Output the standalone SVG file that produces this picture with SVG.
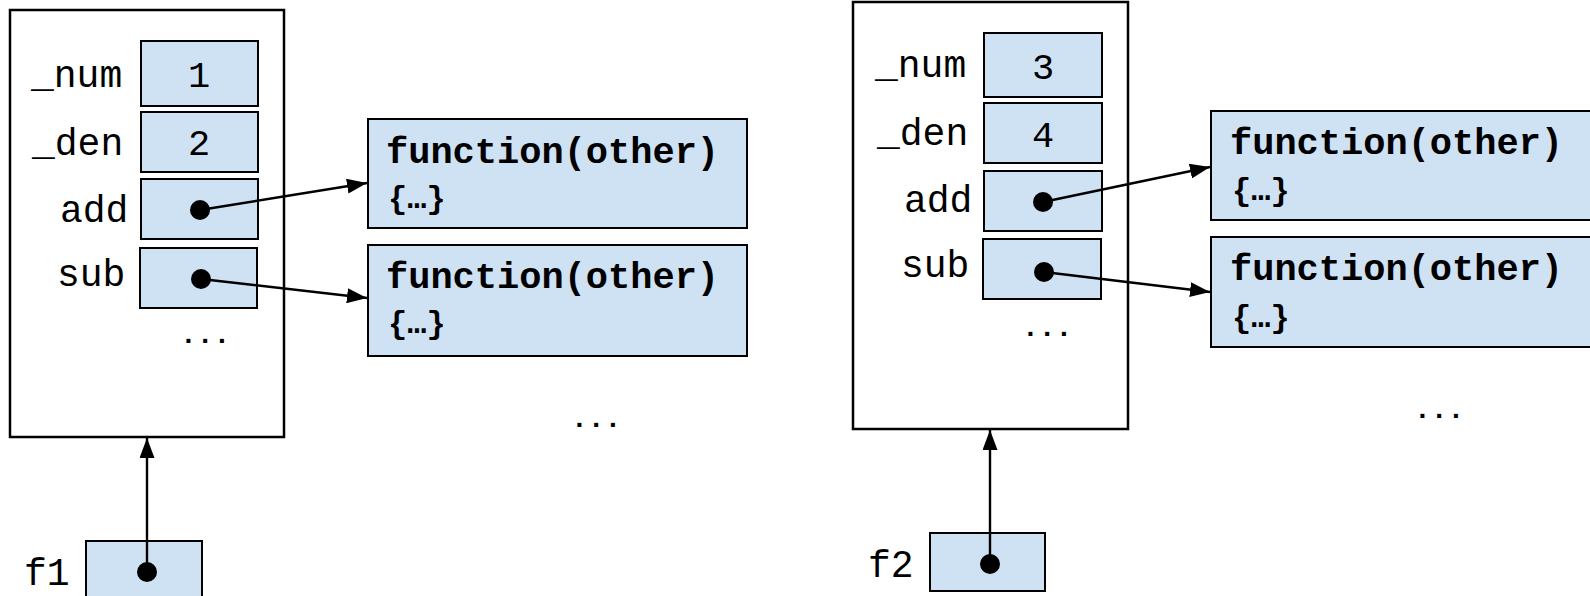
<svg xmlns="http://www.w3.org/2000/svg" width="1590" height="596" viewBox="0 0 1590 596">
<style>
  .frame { fill: #ffffff; stroke: #000000; stroke-width: 2.5; }
  .cell { fill: #cfe2f3; stroke: #000000; stroke-width: 2; }
  .lbl { font-family: "Liberation Mono", "Courier New", monospace; font-size: 38px; fill: #000000; }
  .val { font-family: "Liberation Mono", "Courier New", monospace; font-size: 37px; fill: #000000; text-anchor: middle; }
  .fn { font-family: "Liberation Mono", "Courier New", monospace; font-size: 37px; font-weight: bold; fill: #000000; }
  .body { font-family: "Liberation Mono", "Courier New", monospace; font-size: 32px; font-weight: bold; fill: #000000; }
  .dots { font-family: "Liberation Mono", "Courier New", monospace; font-size: 28px; font-weight: bold; fill: #000000; }
  .dot { fill: #000000; }
  .conn { stroke: #000000; stroke-width: 2.4; fill: none; marker-end: url(#arr); }
</style>
<defs>
  <marker id="arr" viewBox="0 0 20 15" refX="20" refY="7.5" markerWidth="20" markerHeight="15" markerUnits="userSpaceOnUse" orient="auto">
    <path d="M0,0 L20,7.5 L0,15 z" fill="#000000"/>
  </marker>
</defs>

<!-- Left object -->
<g id="obj1">
  <rect class="frame" x="10" y="10" width="274" height="427"/>
  <text class="lbl" x="31" y="87">_num</text>
  <rect class="cell" x="141" y="41" width="117" height="65"/>
  <text class="val" x="199" y="87">1</text>
  <text class="lbl" x="32" y="155">_den</text>
  <rect class="cell" x="141" y="112" width="117" height="60"/>
  <text class="val" x="199" y="155">2</text>
  <text class="lbl" x="60" y="222">add</text>
  <rect class="cell" x="141" y="179" width="117" height="60"/>
  <text class="lbl" x="57" y="286">sub</text>
  <rect class="cell" x="140" y="248" width="117" height="60"/>
  <text class="dots" x="180" y="343">...</text>
</g>
<g id="fn1a">
  <rect class="cell" x="368" y="119" width="379" height="109"/>
  <text class="fn" x="386" y="163">function(other)</text>
  <text class="body" x="388" y="208">{…}</text>
</g>
<g id="fn1b">
  <rect class="cell" x="368" y="245" width="379" height="111"/>
  <text class="fn" x="386" y="288">function(other)</text>
  <text class="body" x="388" y="333">{…}</text>
</g>
<g id="more1">
  <text class="dots" x="571" y="427">...</text>
</g>
<g id="f1">
  <text class="lbl" x="24" y="585">f1</text>
  <rect class="cell" x="86" y="541" width="116" height="70"/>
</g>

<!-- Right object -->
<g id="obj2">
  <rect class="frame" x="853" y="2" width="275" height="427"/>
  <text class="lbl" x="875" y="77">_num</text>
  <rect class="cell" x="984" y="33" width="118" height="64"/>
  <text class="val" x="1043" y="79">3</text>
  <text class="lbl" x="877" y="145">_den</text>
  <rect class="cell" x="984" y="103" width="118" height="60"/>
  <text class="val" x="1043" y="147">4</text>
  <text class="lbl" x="904" y="212">add</text>
  <rect class="cell" x="984" y="171" width="118" height="60"/>
  <text class="lbl" x="901" y="277">sub</text>
  <rect class="cell" x="983" y="239" width="118" height="60"/>
  <text class="dots" x="1022" y="336">...</text>
</g>
<g id="fn2a">
  <rect class="cell" x="1211" y="111" width="380" height="109"/>
  <text class="fn" x="1230" y="154">function(other)</text>
  <text class="body" x="1232" y="200">{…}</text>
</g>
<g id="fn2b">
  <rect class="cell" x="1211" y="237" width="380" height="110"/>
  <text class="fn" x="1230" y="280">function(other)</text>
  <text class="body" x="1232" y="327">{…}</text>
</g>
<g id="more2">
  <text class="dots" x="1414" y="418">...</text>
</g>
<g id="f2">
  <text class="lbl" x="868" y="577">f2</text>
  <rect class="cell" x="930" y="533" width="115" height="58"/>
</g>

<!-- Connectors -->
<g id="connectors">
  <line class="conn" x1="200" y1="210" x2="367" y2="183"/>
  <line class="conn" x1="201" y1="279" x2="367" y2="298"/>
  <line class="conn" x1="147" y1="572" x2="147" y2="438"/>
  <line class="conn" x1="1043" y1="202" x2="1210" y2="167"/>
  <line class="conn" x1="1044" y1="272" x2="1210" y2="292"/>
  <line class="conn" x1="990" y1="564" x2="990" y2="430"/>
  <circle class="dot" cx="200" cy="210" r="10"/>
  <circle class="dot" cx="201" cy="279" r="10"/>
  <circle class="dot" cx="147" cy="572" r="10"/>
  <circle class="dot" cx="1043" cy="202" r="10"/>
  <circle class="dot" cx="1044" cy="272" r="10"/>
  <circle class="dot" cx="990" cy="564" r="10"/>
</g>
</svg>
